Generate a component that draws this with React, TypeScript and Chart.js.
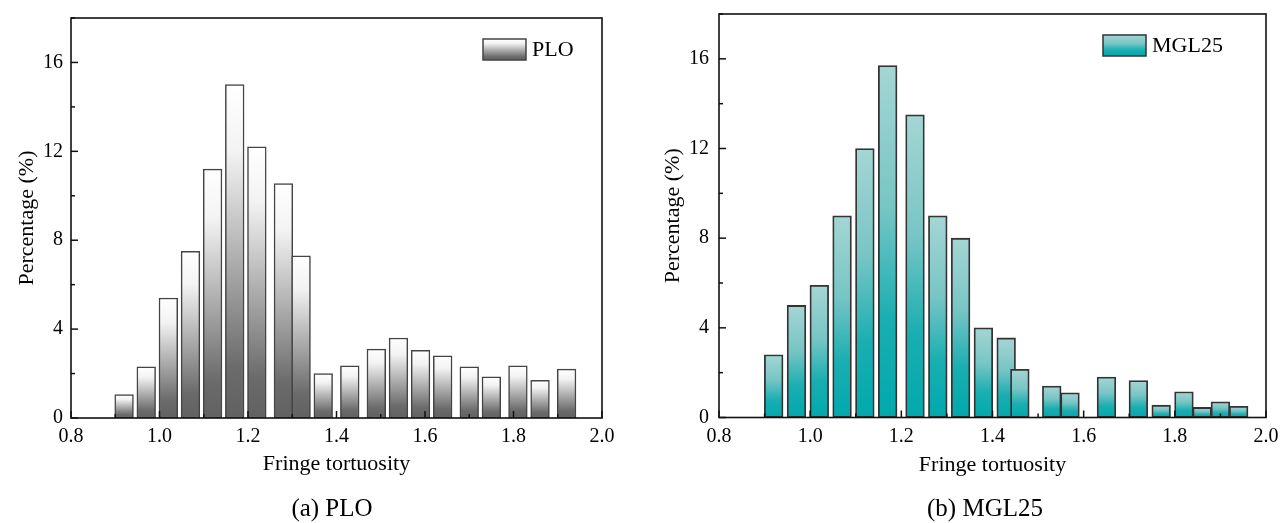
import React, { useEffect, useRef } from 'react';
import { Chart, registerables } from 'chart.js';

Chart.register(...registerables);

// ---------- data ----------
const ploTortuosity = [0.92, 0.97, 1.02, 1.07, 1.12, 1.17, 1.22, 1.28, 1.32, 1.37, 1.43, 1.49, 1.54, 1.59, 1.64, 1.70, 1.75, 1.81, 1.86, 1.92];
const ploPercent = [1.05, 2.3, 5.4, 7.5, 11.2, 15.0, 12.2, 10.55, 7.3, 2.0, 2.35, 3.1, 3.6, 3.05, 2.8, 2.3, 1.85, 2.35, 1.7, 2.2];

const mglTortuosity = [0.92, 0.97, 1.02, 1.07, 1.12, 1.17, 1.23, 1.28, 1.33, 1.38, 1.43, 1.46, 1.53, 1.57, 1.65, 1.72, 1.77, 1.82, 1.86, 1.90, 1.94];
const mglPercent = [2.8, 5.0, 5.9, 9.0, 12.0, 15.7, 13.5, 9.0, 8.0, 4.0, 3.55, 2.15, 1.4, 1.1, 1.8, 1.65, 0.55, 1.15, 0.45, 0.7, 0.5];

const xMin = 0.8;
const xMax = 2.0;
const yMin = 0;
const yMax = 18;

const FONT = '"Liberation Serif", "Times New Roman", Times, serif';

const greyStops: [number, string][] = [
  [0, '#ffffff'],
  [0.2, '#f3f3f3'],
  [0.55, '#a9a9a9'],
  [0.85, '#6b6b6b'],
  [1, '#616161'],
];
const tealStops: [number, string][] = [
  [0, '#a4d6d4'],
  [0.4, '#78c5c5'],
  [0.72, '#1aaeb1'],
  [1, '#00a9ad'],
];

function gradient(ctx: CanvasRenderingContext2D, top: number, bottom: number, stops: [number, string][]) {
  const g = ctx.createLinearGradient(0, top, 0, bottom);
  stops.forEach(([o, c]) => g.addColorStop(o, c));
  return g;
}

const frameTicksPlugin = {
  id: 'frameTicks',
  afterDatasetsDraw(chart: any) {
    const { ctx, chartArea: a, scales } = chart;
    const xs = scales.x;
    const ys = scales.y;
    ctx.save();
    ctx.strokeStyle = '#111';
    ctx.lineWidth = 1.5;
    xs.ticks.forEach((t: any, i: number) => {
      const px = xs.getPixelForTick(i);
      const major = t.label !== '' && t.label != null;
      const len = major ? 7 : 4;
      ctx.beginPath();
      ctx.moveTo(px, a.bottom);
      ctx.lineTo(px, a.bottom - len);
      ctx.stroke();
    });
    ys.ticks.forEach((t: any, i: number) => {
      const py = ys.getPixelForTick(i);
      const major = t.label !== '' && t.label != null;
      const len = major ? 7 : 4;
      ctx.beginPath();
      ctx.moveTo(a.left, py);
      ctx.lineTo(a.left + len, py);
      ctx.stroke();
    });
    ctx.lineWidth = 1.6;
    ctx.strokeRect(a.left, a.top, a.right - a.left, a.bottom - a.top);
    ctx.restore();
  },
};

const insideLegendPlugin = {
  id: 'insideLegend',
  afterDraw(chart: any, _args: any, opts: any) {
    const { ctx, chartArea: a } = chart;
    const ds = chart.data.datasets[0];
    const w = 43;
    const h = 21;
    const x0 = a.right - opts.fromRight;
    const y0 = a.top + opts.fromTop;
    ctx.save();
    ctx.fillStyle = gradient(ctx, y0, y0 + h, opts.stops);
    ctx.fillRect(x0, y0, w, h);
    ctx.strokeStyle = opts.border;
    ctx.lineWidth = 1.5;
    ctx.strokeRect(x0, y0, w, h);
    ctx.fillStyle = '#000';
    ctx.font = `22px ${FONT}`;
    ctx.textBaseline = 'middle';
    ctx.textAlign = 'left';
    ctx.fillText(ds.label, x0 + w + 6, y0 + h / 2 + 1);
    ctx.restore();
  },
};

type PanelProps = {
  label: string;
  xs: number[];
  ys: number[];
  stops: [number, string][];
  border: string;
  borderWidth: number;
  yWidth: number;
  yTitlePad: number;
  yTickPad: number;
  padTop: number;
  padRight: number;
  xHeight: number;
  xTitlePadBottom: number;
  legendFromRight: number;
};

function HistPanel(p: PanelProps) {
  const ref = useRef<HTMLCanvasElement | null>(null);
  useEffect(() => {
    if (!ref.current) return;
    const chart = new Chart(ref.current, {
      type: 'bar',
      data: {
        datasets: [
          {
            label: p.label,
            data: p.xs.map((x, i) => ({ x, y: p.ys[i] })),
            barThickness: 18.7,
            borderColor: p.border,
            borderWidth: p.borderWidth,
            borderSkipped: false,
            backgroundColor: (c: any) => {
              const ch = c.chart;
              if (!ch.chartArea || c.type !== 'data' || !c.raw) return p.stops[p.stops.length - 1][1];
              const ysc = ch.scales.y;
              const top = ysc.getPixelForValue(c.raw.y);
              const bot = ysc.getPixelForValue(0);
              if (!(bot > top)) return p.stops[p.stops.length - 1][1];
              return gradient(ch.ctx, top, bot, p.stops);
            },
          } as any,
        ],
      },
      options: {
        responsive: false,
        animation: false,
        events: [],
        layout: { padding: { left: 0, top: p.padTop, right: p.padRight, bottom: 0 } },
        scales: {
          x: {
            type: 'linear',
            min: xMin,
            max: xMax,
            offset: false,
            grid: { display: false, drawTicks: false },
            border: { display: false },
            ticks: {
              stepSize: 0.1,
              autoSkip: false,
              maxRotation: 0,
              padding: 7,
              color: '#000',
              font: { family: FONT, size: 20 },
              callback: (v: any) => {
                const n = Math.round(Number(v) * 10);
                return n % 2 === 0 ? (n / 10).toFixed(1) : '';
              },
            },
            title: {
              display: true,
              text: 'Fringe tortuosity',
              color: '#000',
              font: { family: FONT, size: 22 },
              padding: { top: 0, bottom: p.xTitlePadBottom },
            },
            afterFit: (s: any) => {
              s.height = p.xHeight;
              s.paddingLeft = 0;
              s.paddingRight = 0;
            },
          },
          y: {
            min: yMin,
            max: yMax,
            grid: { display: false, drawTicks: false },
            border: { display: false },
            ticks: {
              stepSize: 2,
              autoSkip: false,
              padding: p.yTickPad,
              color: '#000',
              font: { family: FONT, size: 20 },
              callback: (v: any) => {
                const n = Math.round(Number(v));
                return n % 4 === 0 ? String(n) : '';
              },
            },
            title: {
              display: true,
              text: 'Percentage (%)',
              color: '#000',
              font: { family: FONT, size: 22 },
              padding: { top: p.yTitlePad, bottom: 0 },
            },
            afterFit: (s: any) => {
              s.width = p.yWidth;
              s.paddingTop = 0;
              s.paddingBottom = 0;
            },
          },
        },
        plugins: {
          legend: { display: false },
          tooltip: { enabled: false },
          insideLegend: { fromRight: p.legendFromRight, fromTop: 21, stops: p.stops, border: p.border },
        } as any,
      },
      plugins: [frameTicksPlugin, insideLegendPlugin],
    });
    return () => chart.destroy();
  }, []);
  return <canvas ref={ref} width={640} height={523} style={{ display: 'block', width: 640, height: 523 }} />;
}

const captionStyle: React.CSSProperties = {
  position: 'absolute',
  top: 493,
  width: 240,
  textAlign: 'center',
  fontFamily: FONT,
  fontSize: 25,
  lineHeight: '30px',
  color: '#000',
  whiteSpace: 'nowrap',
};

export default function App() {
  return (
    <div style={{ position: 'absolute', left: 0, top: 0, width: 1280, height: 523, background: '#fff', overflow: 'hidden' }}>
      <div style={{ position: 'absolute', left: 0, top: 0 }}>
        <HistPanel
          label="PLO"
          xs={ploTortuosity}
          ys={ploPercent}
          stops={greyStops}
          border="#444"
          borderWidth={1.5}
          yWidth={71}
          yTitlePad={14}
          yTickPad={8}
          padTop={18}
          padRight={38}
          xHeight={105}
          xTitlePadBottom={46}
          legendFromRight={119}
        />
      </div>
      <div style={{ position: 'absolute', left: 640, top: 0 }}>
        <HistPanel
          label="MGL25"
          xs={mglTortuosity}
          ys={mglPercent}
          stops={tealStops}
          border="#333"
          borderWidth={1.8}
          yWidth={79}
          yTitlePad={20}
          yTickPad={10}
          padTop={14}
          padRight={14}
          xHeight={105.5}
          xTitlePadBottom={45}
          legendFromRight={163}
        />
      </div>
      <div style={{ ...captionStyle, left: 332 - 120 }}>(a) PLO</div>
      <div style={{ ...captionStyle, left: 985 - 120 }}>(b) MGL25</div>
    </div>
  );
}
